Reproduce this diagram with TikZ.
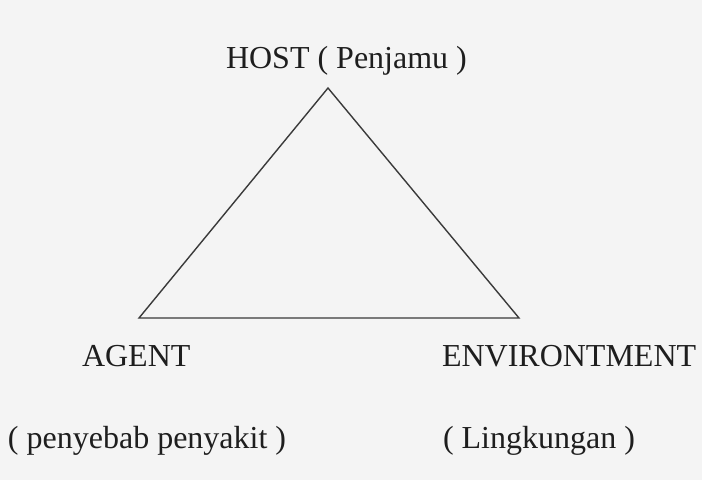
\documentclass[tikz,border=0pt]{standalone}
\usepackage{fontspec}
\setmainfont{Liberation Serif}
\definecolor{bg}{HTML}{F4F4F4}
\definecolor{ink}{HTML}{1E1E1E}
\definecolor{edge}{HTML}{3A3A3A}
\begin{document}
\begin{tikzpicture}[x=1pt,y=-1pt,
  lbl/.style={inner sep=0pt,outer sep=0pt,anchor=base west,text=ink,font=\fontsize{32}{36}\selectfont},
  tri/.style={draw=edge,line width=1.4pt,line join=miter}]
\fill[bg] (0,0) rectangle (702,480);
\useasboundingbox (0,0) rectangle (702,480);
\coordinate (top) at (328,88);
\coordinate (bl) at (139,318);
\coordinate (br) at (519,318);
\draw[tri] (top) -- (bl) -- (br) -- cycle;
\node[lbl] (host) at (226,68) {HOST ( Penjamu )};
\node[lbl] (agent) at (82,366) {AGENT};
\node[lbl] (env) at (442,366) {ENVIRONTMENT};
\node[lbl] (agentsub) at (8,448) {( penyebab penyakit )};
\node[lbl] (envsub) at (443,448) {( Lingkungan )};
\end{tikzpicture}
\end{document}
